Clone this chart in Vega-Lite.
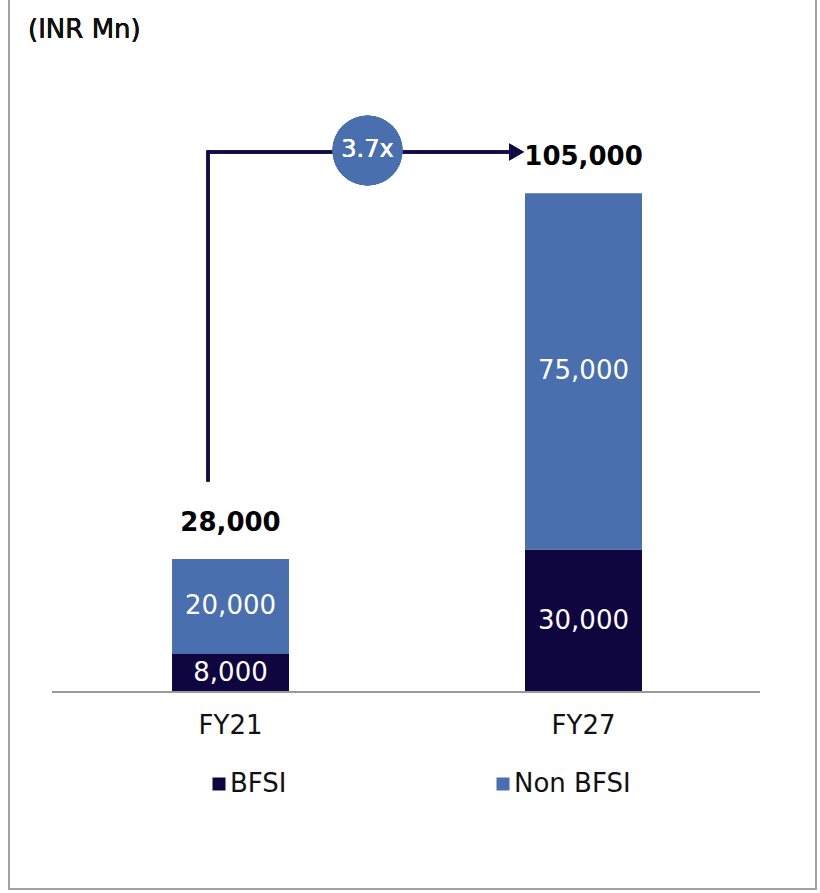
{
  "$schema": "https://vega.github.io/schema/vega-lite/v6.json",
  "width": 807,
  "height": 891,
  "autosize": {"type": "none"},
  "padding": {"left": 9, "top": -2, "right": 4, "bottom": 4},
  "background": "white",
  "config": {
    "view": {"stroke": "#a3a3a3", "strokeWidth": 2},
    "font": "DejaVu Sans"
  },
  "data": {
    "values": [
      {"year": "FY21", "segment": "BFSI", "value": 8000},
      {"year": "FY21", "segment": "Non BFSI", "value": 20000},
      {"year": "FY27", "segment": "BFSI", "value": 30000},
      {"year": "FY27", "segment": "Non BFSI", "value": 75000}
    ]
  },
  "layer": [
    {
      "mark": {"type": "bar"},
      "encoding": {
        "x": {
          "field": "year",
          "type": "nominal",
          "scale": {"type": "band", "domain": ["FY21", "FY27"], "paddingInner": 0.6686, "paddingOuter": 0.4774, "align": 0.4837},
          "axis": {"orient": "bottom", "offset": -197, "domain": false, "ticks": false, "title": null, "labelAngle": 0, "labelFont": "DejaVu Sans", "labelFontSize": 26, "labelColor": "#111111", "labelPadding": 20}
        },
        "y": {
          "field": "value",
          "type": "quantitative",
          "stack": "zero",
          "scale": {"domain": [-41474, 146105], "nice": false, "zero": false},
          "axis": null
        },
        "color": {
          "field": "segment",
          "type": "nominal",
          "scale": {"domain": ["BFSI", "Non BFSI"], "range": ["#10063f", "#4a6fae"]},
          "legend": {
            "orient": "none", "legendX": 197, "legendY": 773, "direction": "horizontal", "title": null,
            "symbolType": "square", "symbolSize": 169, "symbolStrokeWidth": 0, "symbolOpacity": 1,
            "labelFont": "DejaVu Sans", "labelFontSize": 26, "labelColor": "#111111", "labelOffset": -2,
            "columnPadding": 203, "padding": 0, "labelLimit": 300
          }
        },
        "order": {"field": "segment", "sort": "ascending"}
      }
    },
    {
      "transform": [
        {"stack": "value", "groupby": ["year"], "sort": [{"field": "segment", "order": "ascending"}], "as": ["v0", "v1"]},
        {"calculate": "(datum.v0 + datum.v1) / 2", "as": "mid"}
      ],
      "mark": {"type": "text", "color": "white", "font": "DejaVu Sans", "fontSize": 26, "baseline": "middle", "align": "center"},
      "encoding": {
        "x": {"field": "year", "type": "nominal"},
        "y": {"field": "mid", "type": "quantitative"},
        "text": {"field": "value", "type": "quantitative", "format": ","}
      }
    },
    {
      "transform": [{"aggregate": [{"op": "sum", "field": "value", "as": "total"}], "groupby": ["year"]}],
      "mark": {"type": "text", "color": "black", "font": "DejaVu Sans", "fontSize": 26, "fontWeight": "bold", "baseline": "middle", "align": "center", "dy": -36},
      "encoding": {
        "x": {"field": "year", "type": "nominal"},
        "y": {"field": "total", "type": "quantitative"},
        "text": {"field": "total", "type": "quantitative", "format": ","}
      }
    },
    {
      "mark": {"type": "rule", "color": "#9a9a9a", "strokeWidth": 2},
      "encoding": {
        "x": {"datum": "FY21", "bandPosition": -1.0256},
        "x2": {"datum": "FY27", "bandPosition": 2.0085},
        "y": {"datum": 0}
      }
    },
    {
      "mark": {"type": "rule", "color": "#130b45", "strokeWidth": 3, "strokeCap": "square"},
      "encoding": {
        "x": {"datum": "FY21", "bandPosition": 0.3077},
        "y": {"datum": 44632},
        "y2": {"datum": 113684}
      }
    },
    {
      "mark": {"type": "rule", "color": "#130b45", "strokeWidth": 3},
      "encoding": {
        "x": {"datum": "FY21", "bandPosition": 0.3077},
        "x2": {"datum": "FY27", "bandPosition": -0.08},
        "y": {"datum": 113684}
      }
    },
    {
      "mark": {"type": "point", "shape": "triangle-right", "filled": true, "color": "#130b45", "size": 289, "opacity": 1},
      "encoding": {
        "x": {"datum": "FY27", "bandPosition": -0.073},
        "y": {"datum": 113684}
      }
    },
    {
      "mark": {"type": "point", "shape": "circle", "filled": true, "color": "#4a6fae", "size": 4900, "opacity": 1},
      "encoding": {
        "x": {"datum": "FY21", "bandPosition": 1.671},
        "y": {"datum": 114000}
      }
    },
    {
      "mark": {"type": "text", "text": "3.7x", "color": "white", "font": "DejaVu Sans", "fontSize": 24, "baseline": "middle", "align": "center"},
      "encoding": {
        "x": {"datum": "FY21", "bandPosition": 1.671},
        "y": {"datum": 114000}
      }
    },
    {
      "mark": {"type": "text", "text": "(INR Mn)", "color": "#111111", "font": "DejaVu Sans", "fontSize": 26, "baseline": "middle", "align": "left"},
      "encoding": {
        "x": {"datum": "FY21", "bandPosition": -1.2308},
        "y": {"datum": 139368}
      }
    }
  ]
}
